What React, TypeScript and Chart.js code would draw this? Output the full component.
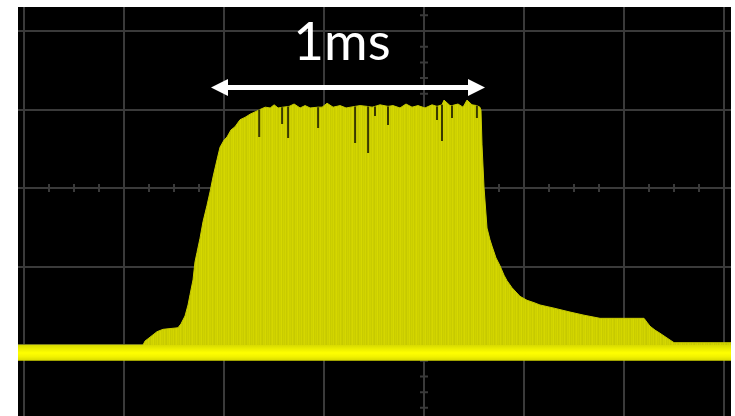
import React, { useEffect, useRef } from "react";
import { Chart, registerables } from "chart.js";

Chart.register(...registerables);

// Time axis in screen divisions (0 = centre graticule), amplitude in divisions
const X_MIN = -4.06;
const X_MAX = 3.07;
const Y_MIN = -2.904;
const Y_MAX = 2.306;

// Upper envelope of the burst
const envelopeX = [
  -4.06, -2.81, -2.79, -2.74, -2.67, -2.61, -2.46, -2.43, -2.39, -2.36,
  -2.34, -2.31, -2.29, -2.27, -2.24, -2.21, -2.17, -2.14, -2.11, -2.07,
  -2.04, -2.0, -1.97, -1.93, -1.89, -1.84, -1.79, -1.74, -1.69, -1.64,
  -1.588, -1.538, -1.499, -1.459, -1.409, -1.349, -1.299, -1.239, -1.189, -1.139,
  -1.059, -1.019, -0.969, -0.909, -0.839, -0.779, -0.689, -0.639, -0.569, -0.519,
  -0.49, -0.44, -0.36, -0.31, -0.24, -0.18, -0.12, -0.06, 0.01, 0.08,
  0.13, 0.18, 0.2, 0.26, 0.28, 0.34, 0.39, 0.43, 0.48, 0.529, 0.559,
  0.57, 0.58, 0.6, 0.63, 0.66, 0.68, 0.72, 0.76, 0.8, 0.83, 0.88, 0.96,
  1.03, 1.1, 1.16, 1.3, 1.46, 1.6, 1.76, 2.2, 2.23, 2.26, 2.31, 2.36, 2.43,
  2.5, 3.07,
];
const envelopeY = [
  -2.0, -2.0, -1.95, -1.9, -1.83, -1.8, -1.78, -1.73, -1.63, -1.49,
  -1.36, -1.17, -0.94, -0.82, -0.64, -0.43, -0.22, -0.05, 0.14, 0.36,
  0.52, 0.61, 0.65, 0.74, 0.78, 0.87, 0.9, 0.94, 0.97, 1.0,
  1.03, 1.02, 1.06, 1.02, 1.03, 1.04, 1.07, 1.02, 1.05, 1.02,
  1.03, 1.03, 1.08, 1.03, 1.05, 1.02, 1.04, 1.05, 1.04, 1.03,
  1.04, 1.06, 1.04, 1.05, 1.02, 1.07, 1.03, 1.05, 1.02, 1.06,
  1.04, 1.06, 1.12, 1.05, 1.05, 1.07, 1.03, 1.12, 1.06, 1.05, 1.03,
  0.99, 0.55, 0.01, -0.51, -0.66, -0.74, -0.89, -0.99, -1.11, -1.18, -1.27, -1.38,
  -1.43, -1.46, -1.49, -1.53, -1.58, -1.62, -1.66, -1.66, -1.71, -1.76, -1.81, -1.85, -1.91,
  -1.97, -1.97,
];

// Dark drop-outs in the burst top (time, top, lowest level)
const dipX = [-1.648, -1.419, -1.359, -1.059, -0.689, -0.559, -0.49, -0.36, 0.13, 0.18, 0.28, 0.529];
const dipTop = [1.0, 1.03, 1.04, 1.03, 1.04, 1.04, 1.04, 1.04, 1.04, 1.06, 1.05, 1.05];
const dipBottom = [0.65, 0.815, 0.637, 0.764, 0.573, 0.446, 0.917, 0.803, 0.866, 0.599, 0.892, 0.892];

// Bright baseline trace band
const baselineX = [-4.06, 3.07];
const baselineTop = [-2.0, -2.0];
const BASELINE_BOTTOM = -2.2;

// Annotation: "1ms" span marker
const LABEL = "1ms";
const LABEL_X = -0.82;
const LABEL_Y = 1.63;
const ARROW_FROM = -2.13;
const ARROW_TO = 0.61;
const ARROW_Y = 1.28;

const GRID = "#3a3a3a";

const decorPlugin = {
  id: "scopeDecor",
  beforeDatasetsDraw(chart: any) {
    const { ctx, scales } = chart;
    const x = scales.x;
    const y = scales.y;
    const x0 = x.getPixelForValue(0);
    const y0 = y.getPixelForValue(0);
    ctx.save();
    ctx.strokeStyle = GRID;
    ctx.lineWidth = 2;
    ctx.beginPath();
    for (let v = Math.ceil(x.min / 0.25) * 0.25; v <= x.max; v += 0.25) {
      const px = x.getPixelForValue(v);
      ctx.moveTo(px, y0 - 4);
      ctx.lineTo(px, y0 + 4);
    }
    for (let v = Math.ceil(y.min / 0.2) * 0.2; v <= y.max; v += 0.2) {
      const py = y.getPixelForValue(v);
      ctx.moveTo(x0 - 4, py);
      ctx.lineTo(x0 + 4, py);
    }
    ctx.stroke();
    ctx.restore();
  },
  afterDatasetsDraw(chart: any) {
    const { ctx, scales } = chart;
    const x = scales.x;
    const y = scales.y;
    const xs = x.getPixelForValue(ARROW_FROM);
    const xe = x.getPixelForValue(ARROW_TO);
    const ya = y.getPixelForValue(ARROW_Y);
    const head = 17;
    const half = 8.5;
    ctx.save();
    ctx.fillStyle = "#ffffff";
    ctx.strokeStyle = "#ffffff";
    ctx.lineWidth = 5;
    ctx.beginPath();
    ctx.moveTo(xs + head - 1, ya);
    ctx.lineTo(xe - head + 1, ya);
    ctx.stroke();
    ctx.beginPath();
    ctx.moveTo(xs, ya);
    ctx.lineTo(xs + head, ya - half);
    ctx.lineTo(xs + head, ya + half);
    ctx.closePath();
    ctx.fill();
    ctx.beginPath();
    ctx.moveTo(xe, ya);
    ctx.lineTo(xe - head, ya - half);
    ctx.lineTo(xe - head, ya + half);
    ctx.closePath();
    ctx.fill();
    ctx.font = "53px Lato, 'Open Sans', sans-serif";
    ctx.textAlign = "center";
    ctx.textBaseline = "alphabetic";
    ctx.fillText(LABEL, x.getPixelForValue(LABEL_X), y.getPixelForValue(LABEL_Y));
    ctx.restore();
  },
};

function makeStripePattern(): CanvasPattern | string {
  const off = document.createElement("canvas");
  const shades = [
    "#cfd200", "#c9cc00", "#d4d600", "#cbce00", "#c6c900", "#d1d400",
    "#cdd000", "#d6d800", "#c8cb00", "#d0d300", "#cacd00", "#d3d500",
    "#c7ca00", "#cfd100", "#d5d700", "#ccce00",
  ];
  off.width = shades.length;
  off.height = 1;
  const c = off.getContext("2d");
  if (!c) return "#cfd200";
  shades.forEach((s, i) => {
    c.fillStyle = s;
    c.fillRect(i, 0, 1, 1);
  });
  return c.createPattern(off, "repeat") || "#cfd200";
}

export default function App() {
  const ref = useRef<HTMLCanvasElement>(null);

  useEffect(() => {
    if (!ref.current) return;
    const pattern = makeStripePattern();
    const dipData: any[] = [];
    dipX.forEach((v, i) => {
      dipData.push({ x: v, y: dipTop[i] });
      dipData.push({ x: v, y: dipBottom[i] });
      dipData.push({ x: v + 0.001, y: null });
    });
    const chart = new Chart(ref.current, {
      type: "line",
      data: {
        datasets: [
          {
            label: "dropouts",
            data: dipData,
            borderColor: "rgba(40,40,0,0.9)",
            borderWidth: 2,
            fill: false,
            spanGaps: false,
            pointRadius: 0,
            tension: 0,
            order: 0,
          },
          {
            label: "envelope",
            data: envelopeX.map((v, i) => ({ x: v, y: envelopeY[i] })),
            borderColor: "#c8cb00",
            borderWidth: 1,
            backgroundColor: pattern as any,
            fill: { value: -2.05 },
            pointRadius: 0,
            tension: 0,
            order: 2,
          },
          {
            label: "baseline",
            data: baselineX.map((v, i) => ({ x: v, y: baselineTop[i] })),
            borderWidth: 0,
            borderColor: "rgba(0,0,0,0)",
            backgroundColor: (context: any) => {
              const ch = context.chart;
              const area = ch.chartArea;
              if (!area) return "#f0f000";
              const ys = ch.scales.y;
              const top = ys.getPixelForValue(baselineTop[0]);
              const bot = ys.getPixelForValue(BASELINE_BOTTOM);
              const g = ch.ctx.createLinearGradient(0, top, 0, bot);
              g.addColorStop(0, "#d8da00");
              g.addColorStop(0.2, "#e8ea00");
              g.addColorStop(0.5, "#ffff00");
              g.addColorStop(0.75, "#f2f200");
              g.addColorStop(1, "#d6d800");
              return g;
            },
            fill: { value: BASELINE_BOTTOM },
            pointRadius: 0,
            tension: 0,
            order: 1,
          },
        ],
      },
      options: {
        animation: false,
        responsive: false,
        events: [],
        layout: { padding: 0 },
        plugins: {
          legend: { display: false },
          tooltip: { enabled: false },
        },
        scales: {
          x: {
            type: "linear",
            min: X_MIN,
            max: X_MAX,
            ticks: { display: false, stepSize: 1, includeBounds: false },
            grid: { color: GRID, lineWidth: 2, drawTicks: false },
            border: { display: false },
          },
          y: {
            type: "linear",
            min: Y_MIN,
            max: Y_MAX,
            ticks: { display: false, stepSize: 1, includeBounds: false },
            grid: { color: GRID, lineWidth: 2, drawTicks: false },
            border: { display: false },
          },
        },
      },
      plugins: [decorPlugin],
    });
    return () => chart.destroy();
  }, []);

  return (
    <div
      style={{
        position: "absolute",
        left: 18,
        top: 7,
        width: 713,
        height: 409,
        background: "#000",
      }}
    >
      <canvas ref={ref} width={713} height={409} style={{ display: "block" }} />
    </div>
  );
}
